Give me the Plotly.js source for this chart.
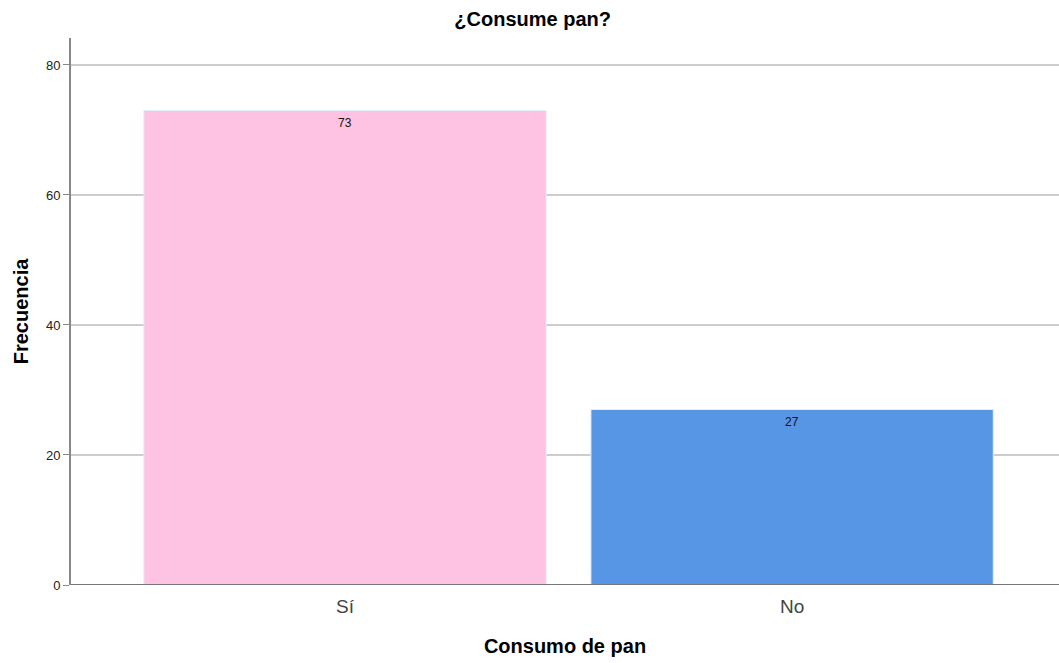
<!DOCTYPE html>
<html>
<head>
<meta charset="utf-8">
<script src="https://cdn.plot.ly/plotly-3.0.1.min.js"></script>
<style>html,body{margin:0;padding:0;background:#fff;}#chart{width:1059px;height:663px;}</style>
</head>
<body>
<div id="chart"></div>
<script>
// Frequency of bread consumption
const categories = ['Sí', 'No'];
const counts = [73, 27];
const barColors = ['#FEC3E2', '#5696E4'];
const yTicks = [0, 20, 40, 60, 80];

const FONT = 'Liberation Sans, Arial, sans-serif';

const trace = {
  type: 'bar',
  x: categories,
  y: counts,
  width: 0.9,
  marker: { color: barColors, line: { color: '#E6EEF8', width: 1 } },
  hoverinfo: 'none'
};

// value labels just below the top of each bar
const labels = categories.map((c, i) => ({
  x: c, y: counts[i], xref: 'x', yref: 'y',
  text: String(counts[i]),
  showarrow: false,
  yanchor: 'middle',
  yshift: -13,
  font: { family: FONT, size: 12, color: '#111' }
}));

const layout = {
  width: 1059,
  height: 663,
  margin: { l: 71, r: 0, t: 38, b: 78 },
  paper_bgcolor: '#fff',
  plot_bgcolor: '#fff',
  showlegend: false,
  title: {
    text: '<b>¿Consume pan?</b>',
    font: { family: FONT, size: 20, color: '#000' },
    x: 0.503, xanchor: 'center', y: 0.972, yanchor: 'middle'
  },
  xaxis: {
    range: [-0.613, 1.597],
    showline: false,
    showgrid: false,
    zeroline: false,
    ticks: '',
    ticklabelstandoff: 8,
    tickfont: { family: FONT, size: 19, color: '#444' },
    title: {
      text: '<b>Consumo de pan</b>',
      font: { family: FONT, size: 20, color: '#000' },
      standoff: 22
    }
  },
  yaxis: {
    range: [0, 84.15],
    tickvals: yTicks,
    ticktext: yTicks.map(String),
    ticks: 'outside',
    ticklen: 6,
    tickcolor: '#888',
    showline: true,
    linecolor: '#888',
    linewidth: 2,
    showgrid: true,
    gridcolor: '#CDCDCD',
    gridwidth: 2,
    zeroline: false,
    tickfont: { family: FONT, size: 13, color: '#222' },
    title: {
      text: '<b>Frecuencia</b>',
      font: { family: FONT, size: 20, color: '#000' },
      standoff: 12
    }
  },
  annotations: labels,
  shapes: [{
    type: 'line', xref: 'paper', yref: 'y', x0: 0, x1: 1, y0: 0, y1: 0,
    line: { color: '#777', width: 2 }
  }]
};

Plotly.newPlot('chart', [trace], layout, { staticPlot: true, displayModeBar: false });
</script>
</body>
</html>
